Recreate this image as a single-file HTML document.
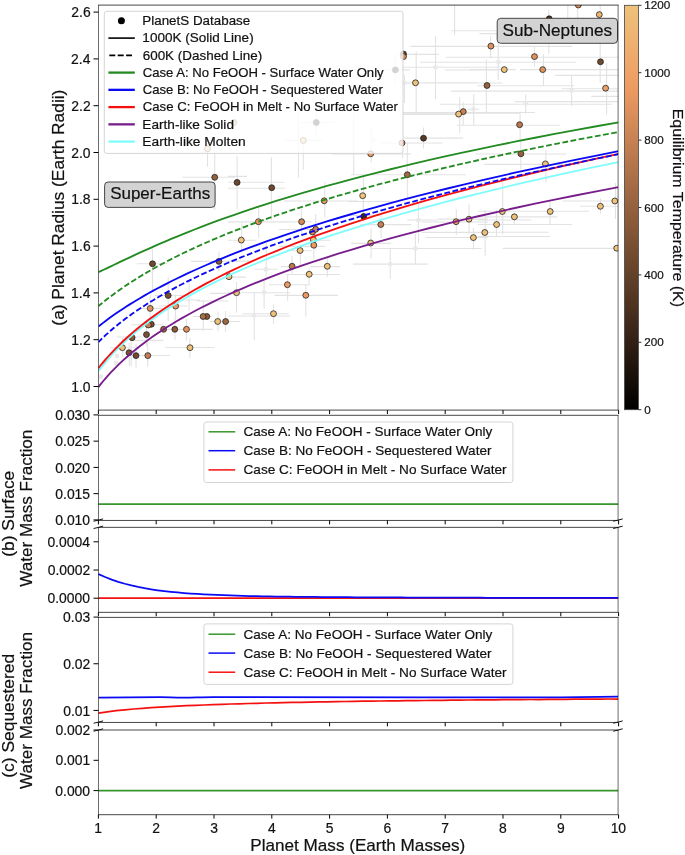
<!DOCTYPE html>
<html><head><meta charset="utf-8"><style>html,body{margin:0;padding:0;background:#fff;}svg{display:block;will-change:transform;}</style></head><body>
<svg width="685" height="855" viewBox="0 0 685 855" font-family="Liberation Sans, sans-serif"><style>text{stroke:#111;stroke-width:0.2px;}</style>
<defs>
<clipPath id="clipA"><rect x="98.5" y="5.1" width="519.6" height="405.0"/></clipPath>
<linearGradient id="cmap" x1="0" y1="1" x2="0" y2="0"><stop offset="0.0000" stop-color="#000000"/><stop offset="0.0417" stop-color="#0c0805"/><stop offset="0.0833" stop-color="#19100a"/><stop offset="0.1250" stop-color="#25180f"/><stop offset="0.1667" stop-color="#322015"/><stop offset="0.2083" stop-color="#3e281a"/><stop offset="0.2500" stop-color="#4b311f"/><stop offset="0.2917" stop-color="#573924"/><stop offset="0.3333" stop-color="#634129"/><stop offset="0.3750" stop-color="#70492e"/><stop offset="0.4167" stop-color="#7c5133"/><stop offset="0.4583" stop-color="#895938"/><stop offset="0.5000" stop-color="#95613e"/><stop offset="0.5417" stop-color="#a16943"/><stop offset="0.5833" stop-color="#ae7148"/><stop offset="0.6250" stop-color="#ba794d"/><stop offset="0.6667" stop-color="#c78152"/><stop offset="0.7083" stop-color="#d38a57"/><stop offset="0.7500" stop-color="#e0925c"/><stop offset="0.7917" stop-color="#ec9a61"/><stop offset="0.8333" stop-color="#eea267"/><stop offset="0.8750" stop-color="#eeaa6c"/><stop offset="0.9167" stop-color="#eeb271"/><stop offset="0.9583" stop-color="#eeba76"/><stop offset="1.0000" stop-color="#eec27b"/></linearGradient>
</defs>
<rect width="685" height="855" fill="#fff"/>
<g clip-path="url(#clipA)">
<path d="M454.6,5.0V35.2M451.4,30.7H496.0M479.5,33.6H520.0M410.4,46.4H572.0M490.6,36.3V58.0M435.5,36.3V99.0M398.0,54.4H438.6M445.8,57.3H619.0M416.2,51.6V114.5M420.0,62.2H576.0M486.4,59.6V112.0M498.2,43.5V80.2M402.2,31.5V75.0M470.0,69.6H515.7M520.0,69.6H619.0M555.0,75.4H619.0M470.0,83.0H502.3M477.0,85.8H574.0M561.6,88.8H619.0M451.0,91.1H619.0M591.3,96.4H619.0M514.8,101.6H619.0M439.6,104.2H612.3M402.8,112.5H534.9M402.8,114.5H459.7M402.8,67.2H500.0M444.8,70.0H500.0M402.8,82.9H476.4M534.5,46.0V66.8M543.5,54.3V85.9M548.8,10.0V53.4M571.6,75.4V106.0M600.2,5.0V83.0M606.6,63.0V114.6M525.7,94.5V113.6M520.1,111.7V140.0M577.6,5.0V18.0M567.8,5.0V18.0M459.7,97.0V132.8M463.2,102.2V125.0M473.7,94.3V124.9M404.5,75.0V103.0M467.6,109.2H479.0M403.7,138.1H463.2M423.5,127.5V148.5M380.0,143.0H442.2M402.6,153.4V158.2M407.3,142.4V200.0M351.0,174.8H465.8M331.8,153.9H410.7M457.0,125.2H560.0M402.8,113.3H520.0M475.5,154.0H566.5M484.2,164.4H580.0M303.3,134.5V169.6M298.5,113.0V177.4M271.4,157.3V220.0M228.0,182.2H284.5M353.7,113.0V174.8M363.4,176.6V221.6M324.8,181.8V217.5M371.2,127.5V162.6M285.0,140.4H322.0M300.0,122.5H335.0M316.3,108.0V135.0M380.0,69.9H410.0M395.4,55.0V85.0M228.0,188.2H285.0M237.1,156.0V208.7M228.0,176.4H247.0M520.8,140.0V169.6M545.9,150.0V181.9M502.7,183.0V234.4M478.0,211.3H589.2M514.4,212.8V225.1M478.0,216.9H557.3M496.5,210.0V236.5M478.0,224.5H571.7M478.0,220.0H531.5M478.0,232.3H549.0M478.0,236.5H550.0M550.0,201.5V224.1M600.5,198.4V213.8M615.5,183.0V219.0M562.4,201.0H619.0M580.0,206.3H619.0M502.7,248.4H619.0M485.2,209.7V256.3M348.0,201.5H393.0M363.3,195.0V221.6M348.0,215.4H380.0M418.5,204.2V243.0M407.3,220.0H437.9M381.1,213.4V237.9M360.3,224.6H411.4M371.1,228.7V258.4M351.0,243.4H390.9M415.4,233.8V264.5M370.5,248.5H481.9M390.3,249.2V278.8M353.1,264.1H427.7M456.3,209.3V234.9M421.6,222.0H488.0M469.0,204.2V233.8M437.9,219.1H488.0M421.6,232.4H488.0M425.7,237.5H488.0M473.5,228.0V250.0M228.0,221.9H294.6M290.0,221.7H312.0M258.7,207.0V237.7M301.6,208.8V235.0M284.0,201.0H358.0M241.7,222.8V252.6M228.0,240.3H256.0M313.8,223.7V259.6M278.8,246.4H325.2M302.5,240.3H330.5M300.4,244.7V266.6M291.0,250.8H312.0M266.2,243.0V277.0M254.3,269.2H277.6M292.0,256.0V273.6M280.6,266.6H301.6M327.3,257.8V277.0M310.3,266.6H340.1M309.1,268.3V284.0M285.8,274.5H340.1M228.0,277.1H246.0M287.6,274.6V300.8M269.0,284.7H310.0M274.5,295.4H338.0M305.8,285.0V316.6M242.2,313.7H288.7M273.5,304.2V324.2M254.3,293.0V340.3M228.0,316.0H290.0M264.1,279.5V308.6M228.0,292.8H290.0M236.5,282.0V312.8M279.0,229.5H317.0M228.0,261.1H250.0M315.7,214.0V250.0M136.9,263.8H168.2M152.5,248.8V290.0M191.0,261.4H240.0M218.9,251.6V271.6M168.2,277.3V320.9M155.0,295.5H189.1M189.1,281.0V311.4M175.0,300.0H200.0M158.7,306.0H187.2M175.4,294.3V319.0M150.2,295.3V320.0M196.7,301.0H228.0M203.3,300.0V331.3M218.0,311.4V331.3M210.0,293.4H235.0M165.4,347.5H214.7M189.9,338.0V357.9M132.0,355.5H170.0M136.0,343.7V368.3M147.7,333.0V366.4M131.2,340.4H163.5M131.2,324.7H163.5M131.2,336.0V366.4M117.0,337.0H141.7M174.9,318.0V339.9M186.4,319.0V340.8M158.7,329.4H212.8M192.9,316.5H211.9M210.0,321.5H240.0M225.5,311.0V332.0M122.7,338.0V357.0M110.0,347.7H135.0M129.3,343.0V366.0M146.4,322.0V346.0M140.0,308.4H162.0M182.5,177.3H235.0M214.7,145.8V210.0M207.5,148.7V166.7" stroke="#d8d8d8" stroke-width="1.1" fill="none" stroke-opacity="0.75"/>
<circle cx="117" cy="356" r="2.4" fill="#e9e9e9"/>
<circle cx="116" cy="363" r="2.4" fill="#e9e9e9"/>
<circle cx="100.8" cy="376.7" r="2.4" fill="#e9e9e9"/>
<circle cx="266" cy="269.5" r="2.4" fill="#e9e9e9"/>
<circle cx="264" cy="292.3" r="2.4" fill="#e9e9e9"/>
<circle cx="254.2" cy="315.6" r="2.4" fill="#e9e9e9"/>
<circle cx="418.4" cy="220.2" r="2.4" fill="#e9e9e9"/>
<circle cx="415.5" cy="248.7" r="2.4" fill="#e9e9e9"/>
<circle cx="390.3" cy="264.2" r="2.4" fill="#e9e9e9"/>
<circle cx="373.2" cy="140.1" r="2.4" fill="#e9e9e9"/>
<circle cx="473.4" cy="109.2" r="2.4" fill="#e9e9e9"/>
<circle cx="435.4" cy="67.3" r="2.4" fill="#e9e9e9"/>
<circle cx="404.5" cy="82.8" r="2.4" fill="#e9e9e9"/>
<circle cx="498.5" cy="62" r="2.4" fill="#e9e9e9"/>
<circle cx="571.6" cy="90.7" r="2.4" fill="#e9e9e9"/>
<circle cx="525.7" cy="103.5" r="2.4" fill="#e9e9e9"/>
<circle cx="150.2" cy="308.4" r="2.95" fill="#e0925c" stroke="#1a1a1a" stroke-width="0.75"/>
<circle cx="175.6" cy="306.1" r="2.95" fill="#ec9a61" stroke="#1a1a1a" stroke-width="0.75"/>
<circle cx="151.3" cy="324.3" r="2.95" fill="#774e31" stroke="#1a1a1a" stroke-width="0.75"/>
<circle cx="148.3" cy="325" r="2.95" fill="#c78152" stroke="#1a1a1a" stroke-width="0.75"/>
<circle cx="146.5" cy="334.6" r="2.95" fill="#7c5133" stroke="#1a1a1a" stroke-width="0.75"/>
<circle cx="132.1" cy="337.7" r="2.95" fill="#865737" stroke="#1a1a1a" stroke-width="0.75"/>
<circle cx="122.4" cy="347.7" r="2.95" fill="#eec27b" stroke="#1a1a1a" stroke-width="0.75"/>
<circle cx="129" cy="352.7" r="2.95" fill="#7c5133" stroke="#1a1a1a" stroke-width="0.75"/>
<circle cx="136" cy="355.6" r="2.95" fill="#724a2f" stroke="#1a1a1a" stroke-width="0.75"/>
<circle cx="147.8" cy="355.6" r="2.95" fill="#c27e50" stroke="#1a1a1a" stroke-width="0.75"/>
<circle cx="163.6" cy="329.3" r="2.95" fill="#a16943" stroke="#1a1a1a" stroke-width="0.75"/>
<circle cx="174.8" cy="329.3" r="2.95" fill="#8b5b39" stroke="#1a1a1a" stroke-width="0.75"/>
<circle cx="186.5" cy="329.3" r="2.95" fill="#e0925c" stroke="#1a1a1a" stroke-width="0.75"/>
<circle cx="190" cy="347.7" r="2.95" fill="#eec27b" stroke="#1a1a1a" stroke-width="0.75"/>
<circle cx="206.8" cy="316.5" r="2.95" fill="#8b5b39" stroke="#1a1a1a" stroke-width="0.75"/>
<circle cx="203.1" cy="316.5" r="2.95" fill="#a96e46" stroke="#1a1a1a" stroke-width="0.75"/>
<circle cx="217.7" cy="321.5" r="2.95" fill="#eec27b" stroke="#1a1a1a" stroke-width="0.75"/>
<circle cx="225.6" cy="321.5" r="2.95" fill="#9f6842" stroke="#1a1a1a" stroke-width="0.75"/>
<circle cx="152.5" cy="263.8" r="2.95" fill="#70492e" stroke="#1a1a1a" stroke-width="0.75"/>
<circle cx="218.9" cy="261.4" r="2.95" fill="#895938" stroke="#1a1a1a" stroke-width="0.75"/>
<circle cx="168.2" cy="295.5" r="2.95" fill="#774e31" stroke="#1a1a1a" stroke-width="0.75"/>
<circle cx="207.5" cy="148.7" r="2.95" fill="#eec27b" stroke="#1a1a1a" stroke-width="0.75"/>
<circle cx="214.7" cy="177.3" r="2.95" fill="#95613e" stroke="#1a1a1a" stroke-width="0.75"/>
<circle cx="233.7" cy="122.5" r="2.95" fill="#eec27b" stroke="#1a1a1a" stroke-width="0.75"/>
<circle cx="316.3" cy="122.5" r="2.95" fill="#322015" stroke="#1a1a1a" stroke-width="0.75"/>
<circle cx="303.3" cy="140.5" r="2.95" fill="#eec27b" stroke="#1a1a1a" stroke-width="0.75"/>
<circle cx="237.1" cy="182.4" r="2.95" fill="#6b462c" stroke="#1a1a1a" stroke-width="0.75"/>
<circle cx="271.7" cy="187.7" r="2.95" fill="#70492e" stroke="#1a1a1a" stroke-width="0.75"/>
<circle cx="324.2" cy="200.8" r="2.95" fill="#ec9a61" stroke="#1a1a1a" stroke-width="0.75"/>
<circle cx="258.4" cy="221.7" r="2.95" fill="#ec9a61" stroke="#1a1a1a" stroke-width="0.75"/>
<circle cx="301.6" cy="221.7" r="2.95" fill="#d38a57" stroke="#1a1a1a" stroke-width="0.75"/>
<circle cx="241.3" cy="240.1" r="2.95" fill="#eec27b" stroke="#1a1a1a" stroke-width="0.75"/>
<circle cx="312.5" cy="232" r="2.95" fill="#d38a57" stroke="#1a1a1a" stroke-width="0.75"/>
<circle cx="315.7" cy="229.3" r="2.95" fill="#c78152" stroke="#1a1a1a" stroke-width="0.75"/>
<circle cx="313.4" cy="239.7" r="2.95" fill="#eec27b" stroke="#1a1a1a" stroke-width="0.75"/>
<circle cx="313.8" cy="245.2" r="2.95" fill="#ec9a61" stroke="#1a1a1a" stroke-width="0.75"/>
<circle cx="300.1" cy="250.5" r="2.95" fill="#eec27b" stroke="#1a1a1a" stroke-width="0.75"/>
<circle cx="229" cy="276.7" r="2.95" fill="#eec27b" stroke="#1a1a1a" stroke-width="0.75"/>
<circle cx="292.1" cy="266.3" r="2.95" fill="#ba794d" stroke="#1a1a1a" stroke-width="0.75"/>
<circle cx="327.3" cy="266.3" r="2.95" fill="#eec27b" stroke="#1a1a1a" stroke-width="0.75"/>
<circle cx="309.2" cy="274.3" r="2.95" fill="#eec27b" stroke="#1a1a1a" stroke-width="0.75"/>
<circle cx="287.4" cy="284.7" r="2.95" fill="#ec9a61" stroke="#1a1a1a" stroke-width="0.75"/>
<circle cx="236.5" cy="292.7" r="2.95" fill="#eec27b" stroke="#1a1a1a" stroke-width="0.75"/>
<circle cx="305.8" cy="295.3" r="2.95" fill="#ec9a61" stroke="#1a1a1a" stroke-width="0.75"/>
<circle cx="273.5" cy="313.7" r="2.95" fill="#eec27b" stroke="#1a1a1a" stroke-width="0.75"/>
<circle cx="363.7" cy="216.4" r="2.95" fill="#3e281a" stroke="#1a1a1a" stroke-width="0.75"/>
<circle cx="380.8" cy="224.5" r="2.95" fill="#c78152" stroke="#1a1a1a" stroke-width="0.75"/>
<circle cx="370.7" cy="243" r="2.95" fill="#eec27b" stroke="#1a1a1a" stroke-width="0.75"/>
<circle cx="456.1" cy="221.7" r="2.95" fill="#ec9a61" stroke="#1a1a1a" stroke-width="0.75"/>
<circle cx="469" cy="219.2" r="2.95" fill="#eec27b" stroke="#1a1a1a" stroke-width="0.75"/>
<circle cx="473.4" cy="237.6" r="2.95" fill="#eec27b" stroke="#1a1a1a" stroke-width="0.75"/>
<circle cx="484.8" cy="232.5" r="2.95" fill="#eec27b" stroke="#1a1a1a" stroke-width="0.75"/>
<circle cx="463.3" cy="111.6" r="2.95" fill="#c78152" stroke="#1a1a1a" stroke-width="0.75"/>
<circle cx="458.6" cy="114.1" r="2.95" fill="#eec27b" stroke="#1a1a1a" stroke-width="0.75"/>
<circle cx="423.5" cy="138.2" r="2.95" fill="#573924" stroke="#1a1a1a" stroke-width="0.75"/>
<circle cx="402" cy="143" r="2.95" fill="#c78152" stroke="#1a1a1a" stroke-width="0.75"/>
<circle cx="370.7" cy="153.8" r="2.95" fill="#ec9a61" stroke="#1a1a1a" stroke-width="0.75"/>
<circle cx="407.3" cy="174.7" r="2.95" fill="#a16943" stroke="#1a1a1a" stroke-width="0.75"/>
<circle cx="362.7" cy="195.7" r="2.95" fill="#eec27b" stroke="#1a1a1a" stroke-width="0.75"/>
<circle cx="403.5" cy="54" r="2.95" fill="#634129" stroke="#1a1a1a" stroke-width="0.75"/>
<circle cx="403.5" cy="56.6" r="2.95" fill="#d38a57" stroke="#1a1a1a" stroke-width="0.75"/>
<circle cx="395.4" cy="69.9" r="2.95" fill="#322015" stroke="#1a1a1a" stroke-width="0.75"/>
<circle cx="415.5" cy="82.8" r="2.95" fill="#eec27b" stroke="#1a1a1a" stroke-width="0.75"/>
<circle cx="487" cy="85.5" r="2.95" fill="#95613e" stroke="#1a1a1a" stroke-width="0.75"/>
<circle cx="578.3" cy="5" r="2.95" fill="#e0925c" stroke="#1a1a1a" stroke-width="0.75"/>
<circle cx="599.3" cy="14.6" r="2.95" fill="#eeb271" stroke="#1a1a1a" stroke-width="0.75"/>
<circle cx="549.2" cy="18.8" r="2.95" fill="#4b311f" stroke="#1a1a1a" stroke-width="0.75"/>
<circle cx="490.9" cy="46.1" r="2.95" fill="#e0925c" stroke="#1a1a1a" stroke-width="0.75"/>
<circle cx="534.5" cy="56.6" r="2.95" fill="#e0925c" stroke="#1a1a1a" stroke-width="0.75"/>
<circle cx="504.3" cy="69.6" r="2.95" fill="#eec27b" stroke="#1a1a1a" stroke-width="0.75"/>
<circle cx="542.7" cy="69.6" r="2.95" fill="#e0925c" stroke="#1a1a1a" stroke-width="0.75"/>
<circle cx="600.5" cy="61.8" r="2.95" fill="#70492e" stroke="#1a1a1a" stroke-width="0.75"/>
<circle cx="605.6" cy="88.2" r="2.95" fill="#eea267" stroke="#1a1a1a" stroke-width="0.75"/>
<circle cx="519.6" cy="124.7" r="2.95" fill="#ba794d" stroke="#1a1a1a" stroke-width="0.75"/>
<circle cx="520.9" cy="153.8" r="2.95" fill="#95613e" stroke="#1a1a1a" stroke-width="0.75"/>
<circle cx="545.4" cy="163.9" r="2.95" fill="#eec27b" stroke="#1a1a1a" stroke-width="0.75"/>
<circle cx="600.4" cy="206.3" r="2.95" fill="#eec27b" stroke="#1a1a1a" stroke-width="0.75"/>
<circle cx="614.8" cy="201" r="2.95" fill="#eec27b" stroke="#1a1a1a" stroke-width="0.75"/>
<circle cx="502.3" cy="211.5" r="2.95" fill="#eec27b" stroke="#1a1a1a" stroke-width="0.75"/>
<circle cx="550.2" cy="211.5" r="2.95" fill="#eec27b" stroke="#1a1a1a" stroke-width="0.75"/>
<circle cx="514.4" cy="216.8" r="2.95" fill="#eec27b" stroke="#1a1a1a" stroke-width="0.75"/>
<circle cx="496.6" cy="224.5" r="2.95" fill="#eec27b" stroke="#1a1a1a" stroke-width="0.75"/>
<circle cx="616.7" cy="248.2" r="2.95" fill="#eec27b" stroke="#1a1a1a" stroke-width="0.75"/>
<path d="M98.40,387.09 L100.70,384.18 L103.09,381.26 L105.58,378.34 L108.17,375.42 L110.85,372.49 L113.65,369.55 L116.56,366.60 L119.58,363.64 L122.72,360.68 L125.99,357.71 L129.39,354.72 L132.92,351.73 L136.60,348.72 L140.42,345.70 L144.39,342.67 L148.52,339.62 L152.82,336.56 L157.28,333.49 L161.93,330.40 L166.76,327.30 L171.78,324.17 L177.00,321.04 L182.43,317.88 L188.07,314.70 L193.94,311.51 L200.04,308.30 L206.39,305.06 L212.99,301.81 L219.85,298.53 L226.98,295.23 L234.40,291.91 L242.11,288.56 L250.13,285.20 L258.47,281.80 L267.14,278.38 L276.16,274.94 L285.53,271.46 L295.28,267.97 L305.42,264.44 L315.96,260.88 L326.91,257.30 L338.31,253.68 L350.16,250.04 L362.48,246.36 L375.29,242.66 L388.61,238.92 L402.46,235.14 L416.86,231.34 L431.83,227.50 L447.40,223.62 L463.59,219.71 L480.43,215.76 L497.93,211.78 L516.13,207.76 L535.06,203.70 L554.74,199.60 L575.20,195.47 L596.48,191.29 L618.60,187.07" stroke="#781e8c" stroke-width="1.85" fill="none"/>
<path d="M98.40,371.24 L100.70,368.19 L103.09,365.13 L105.58,362.08 L108.17,359.03 L110.85,355.97 L113.65,352.92 L116.56,349.86 L119.58,346.79 L122.72,343.73 L125.99,340.65 L129.39,337.57 L132.92,334.48 L136.60,331.38 L140.42,328.27 L144.39,325.16 L148.52,322.02 L152.82,318.88 L157.28,315.72 L161.93,312.55 L166.76,309.36 L171.78,306.16 L177.00,302.93 L182.43,299.69 L188.07,296.43 L193.94,293.15 L200.04,289.84 L206.39,286.51 L212.99,283.16 L219.85,279.79 L226.98,276.38 L234.40,272.96 L242.11,269.50 L250.13,266.02 L258.47,262.50 L267.14,258.96 L276.16,255.38 L285.53,251.77 L295.28,248.13 L305.42,244.45 L315.96,240.74 L326.91,236.99 L338.31,233.20 L350.16,229.37 L362.48,225.51 L375.29,221.60 L388.61,217.65 L402.46,213.66 L416.86,209.63 L431.83,205.55 L447.40,201.43 L463.59,197.26 L480.43,193.04 L497.93,188.78 L516.13,184.46 L535.06,180.10 L554.74,175.68 L575.20,171.21 L596.48,166.69 L618.60,162.12" stroke="#80fcfc" stroke-width="1.85" fill="none"/>
<path d="M98.40,368.20 L100.70,365.29 L103.09,362.37 L105.58,359.44 L108.17,356.49 L110.85,353.53 L113.65,350.55 L116.56,347.56 L119.58,344.56 L122.72,341.53 L125.99,338.49 L129.39,335.43 L132.92,332.35 L136.60,329.25 L140.42,326.13 L144.39,322.99 L148.52,319.83 L152.82,316.65 L157.28,313.44 L161.93,310.21 L166.76,306.96 L171.78,303.68 L177.00,300.37 L182.43,297.04 L188.07,293.68 L193.94,290.29 L200.04,286.88 L206.39,283.43 L212.99,279.96 L219.85,276.46 L226.98,272.92 L234.40,269.36 L242.11,265.76 L250.13,262.13 L258.47,258.46 L267.14,254.76 L276.16,251.03 L285.53,247.26 L295.28,243.45 L305.42,239.61 L315.96,235.72 L326.91,231.80 L338.31,227.84 L350.16,223.85 L362.48,219.81 L375.29,215.73 L388.61,211.61 L402.46,207.44 L416.86,203.23 L431.83,198.98 L447.40,194.69 L463.59,190.35 L480.43,185.96 L497.93,181.53 L516.13,177.05 L535.06,172.52 L554.74,167.94 L575.20,163.32 L596.48,158.65 L618.60,153.92" stroke="#f51010" stroke-width="1.85" fill="none"/>
<path d="M98.40,326.58 L100.70,324.75 L103.09,322.88 L105.58,320.98 L108.17,319.05 L110.85,317.09 L113.65,315.10 L116.56,313.08 L119.58,311.02 L122.72,308.93 L125.99,306.80 L129.39,304.64 L132.92,302.45 L136.60,300.22 L140.42,297.95 L144.39,295.65 L148.52,293.31 L152.82,290.93 L157.28,288.52 L161.93,286.06 L166.76,283.57 L171.78,281.04 L177.00,278.47 L182.43,275.86 L188.07,273.21 L193.94,270.51 L200.04,267.78 L206.39,265.00 L212.99,262.18 L219.85,259.32 L226.98,256.42 L234.40,253.47 L242.11,250.48 L250.13,247.44 L258.47,244.36 L267.14,241.23 L276.16,238.05 L285.53,234.83 L295.28,231.56 L305.42,228.24 L315.96,224.88 L326.91,221.47 L338.31,218.01 L350.16,214.49 L362.48,210.93 L375.29,207.32 L388.61,203.66 L402.46,199.95 L416.86,196.18 L431.83,192.36 L447.40,188.49 L463.59,184.57 L480.43,180.59 L497.93,176.56 L516.13,172.47 L535.06,168.33 L554.74,164.14 L575.20,159.88 L596.48,155.58 L618.60,151.21" stroke="#0a0af5" stroke-width="1.85" fill="none"/>
<path d="M98.40,342.08 L100.70,339.79 L103.09,337.48 L105.58,335.15 L108.17,332.81 L110.85,330.45 L113.65,328.07 L116.56,325.67 L119.58,323.25 L122.72,320.81 L125.99,318.34 L129.39,315.86 L132.92,313.35 L136.60,310.81 L140.42,308.25 L144.39,305.67 L148.52,303.06 L152.82,300.42 L157.28,297.75 L161.93,295.05 L166.76,292.32 L171.78,289.57 L177.00,286.78 L182.43,283.95 L188.07,281.10 L193.94,278.21 L200.04,275.29 L206.39,272.33 L212.99,269.33 L219.85,266.30 L226.98,263.23 L234.40,260.12 L242.11,256.97 L250.13,253.79 L258.47,250.56 L267.14,247.29 L276.16,243.97 L285.53,240.62 L295.28,237.21 L305.42,233.77 L315.96,230.28 L326.91,226.74 L338.31,223.15 L350.16,219.52 L362.48,215.84 L375.29,212.11 L388.61,208.32 L402.46,204.49 L416.86,200.61 L431.83,196.67 L447.40,192.67 L463.59,188.63 L480.43,184.53 L497.93,180.37 L516.13,176.16 L535.06,171.88 L554.74,167.55 L575.20,163.17 L596.48,158.72 L618.60,154.21" stroke="#0a0af5" stroke-width="1.85" fill="none" stroke-dasharray="5.78,2.5" stroke-dashoffset="0.6"/>
<path d="M98.40,272.15 L100.70,271.10 L103.09,269.99 L105.58,268.82 L108.17,267.61 L110.85,266.33 L113.65,265.01 L116.56,263.63 L119.58,262.19 L122.72,260.70 L125.99,259.16 L129.39,257.56 L132.92,255.91 L136.60,254.21 L140.42,252.46 L144.39,250.65 L148.52,248.79 L152.82,246.88 L157.28,244.92 L161.93,242.90 L166.76,240.84 L171.78,238.72 L177.00,236.55 L182.43,234.33 L188.07,232.06 L193.94,229.74 L200.04,227.37 L206.39,224.95 L212.99,222.48 L219.85,219.96 L226.98,217.39 L234.40,214.77 L242.11,212.10 L250.13,209.38 L258.47,206.62 L267.14,203.81 L276.16,200.94 L285.53,198.04 L295.28,195.08 L305.42,192.07 L315.96,189.02 L326.91,185.92 L338.31,182.78 L350.16,179.59 L362.48,176.35 L375.29,173.06 L388.61,169.73 L402.46,166.35 L416.86,162.93 L431.83,159.46 L447.40,155.95 L463.59,152.39 L480.43,148.79 L497.93,145.14 L516.13,141.45 L535.06,137.72 L554.74,133.94 L575.20,130.11 L596.48,126.25 L618.60,122.34" stroke="#238b22" stroke-width="1.85" fill="none"/>
<path d="M98.40,306.16 L100.70,304.24 L103.09,302.29 L105.58,300.30 L108.17,298.29 L110.85,296.24 L113.65,294.16 L116.56,292.04 L119.58,289.89 L122.72,287.71 L125.99,285.50 L129.39,283.25 L132.92,280.96 L136.60,278.64 L140.42,276.29 L144.39,273.90 L148.52,271.48 L152.82,269.03 L157.28,266.53 L161.93,264.01 L166.76,261.44 L171.78,258.84 L177.00,256.21 L182.43,253.54 L188.07,250.83 L193.94,248.09 L200.04,245.31 L206.39,242.49 L212.99,239.64 L219.85,236.75 L226.98,233.82 L234.40,230.86 L242.11,227.86 L250.13,224.82 L258.47,221.74 L267.14,218.62 L276.16,215.47 L285.53,212.28 L295.28,209.05 L305.42,205.78 L315.96,202.47 L326.91,199.12 L338.31,195.73 L350.16,192.31 L362.48,188.84 L375.29,185.33 L388.61,181.79 L402.46,178.20 L416.86,174.57 L431.83,170.91 L447.40,167.20 L463.59,163.45 L480.43,159.66 L497.93,155.83 L516.13,151.96 L535.06,148.05 L554.74,144.09 L575.20,140.10 L596.48,136.06 L618.60,131.98" stroke="#238b22" stroke-width="1.85" fill="none" stroke-dasharray="5.78,2.5" stroke-dashoffset="0.6"/>
</g>
<rect x="104.3" y="11.3" width="298.7" height="142.1" rx="2.5" fill="#fff" fill-opacity="0.8" stroke="#d0d0d0" stroke-width="0.9"/>
<text x="142.33" y="25.00" font-size="12.9" textLength="107.89" lengthAdjust="spacingAndGlyphs" fill="#111111">PlanetS Database</text>
<circle cx="121.4" cy="20.85" r="3.5" fill="#000"/>
<text x="142.39" y="42.25" font-size="12.9" textLength="111.26" lengthAdjust="spacingAndGlyphs" fill="#111111">1000K (Solid Line)</text>
<path d="M108.4,38.10H134.8" stroke="#000" stroke-width="1.6"/>
<text x="142.73" y="59.50" font-size="12.9" textLength="119.44" lengthAdjust="spacingAndGlyphs" fill="#111111">600K (Dashed Line)</text>
<path d="M109.3,55.35H132" stroke="#000" stroke-width="1.6" stroke-dasharray="6,2.4"/>
<text x="142.74" y="76.75" font-size="12.9" textLength="240.89" lengthAdjust="spacingAndGlyphs" fill="#111111">Case A: No FeOOH - Surface Water Only</text>
<path d="M108.4,72.60H134.8" stroke="#238b22" stroke-width="2.3"/>
<text x="142.74" y="94.00" font-size="12.9" textLength="240.20" lengthAdjust="spacingAndGlyphs" fill="#111111">Case B: No FeOOH - Sequestered Water</text>
<path d="M108.4,89.85H134.8" stroke="#0a0af5" stroke-width="2.3"/>
<text x="142.74" y="111.25" font-size="12.9" textLength="255.19" lengthAdjust="spacingAndGlyphs" fill="#111111">Case C: FeOOH in Melt - No Surface Water</text>
<path d="M108.4,107.10H134.8" stroke="#f51010" stroke-width="2.3"/>
<text x="142.31" y="128.50" font-size="12.9" textLength="91.68" lengthAdjust="spacingAndGlyphs" fill="#111111">Earth-like Solid</text>
<path d="M108.4,124.35H134.8" stroke="#781e8c" stroke-width="2.3"/>
<text x="142.30" y="145.75" font-size="12.9" textLength="103.44" lengthAdjust="spacingAndGlyphs" fill="#111111">Earth-like Molten</text>
<path d="M108.4,141.60H134.8" stroke="#80fcfc" stroke-width="2.3"/>
<rect x="104.6" y="182" width="110.5" height="25.4" rx="3.5" fill="#d3d3d3" stroke="#333" stroke-width="0.9"/>
<text x="110.14" y="199.40" font-size="17" textLength="100.09" lengthAdjust="spacingAndGlyphs" fill="#111111">Super-Earths</text>
<rect x="497.2" y="18.3" width="120.3" height="25" rx="3.5" fill="#d3d3d3" stroke="#333" stroke-width="0.9"/>
<text x="502.53" y="35.70" font-size="17" textLength="109.54" lengthAdjust="spacingAndGlyphs" fill="#111111">Sub-Neptunes</text>
<path d="M98.5,504.1H618.1" stroke="#36962c" stroke-width="1.75"/>
<path d="M98.5,598.2H618.1" stroke="#f51010" stroke-width="1.75"/>
<path d="M98.5,574.10 L105.1,577.06 L111.7,579.62 L118.2,581.85 L124.8,583.78 L131.4,585.46 L138.0,586.92 L144.5,588.19 L151.1,589.29 L157.7,590.26 L164.3,591.10 L170.8,591.83 L177.4,592.48 L184.0,593.04 L190.6,593.53 L197.2,593.96 L203.7,594.34 L210.3,594.68 L216.9,594.97 L223.5,595.23 L230.0,595.47 L236.6,595.67 L243.2,595.85 L249.8,596.02 L256.4,596.16 L262.9,596.29 L269.5,596.41 L276.1,596.52 L282.7,596.61 L289.2,596.70 L295.8,596.78 L302.4,596.86 L309.0,596.92 L315.5,596.98 L322.1,597.04 L328.7,597.09 L335.3,597.14 L341.9,597.19 L348.4,597.23 L355.0,597.27 L361.6,597.31 L368.2,597.34 L374.7,597.38 L381.3,597.41 L387.9,597.44 L394.5,597.47 L401.1,597.49 L407.6,597.52 L414.2,597.54 L420.8,597.56 L427.4,597.59 L433.9,597.61 L440.5,597.63 L447.1,597.65 L453.7,597.67 L460.2,597.69 L466.8,597.70 L473.4,597.72 L480.0,597.74 L486.6,597.75 L493.1,597.77 L499.7,597.78 L506.3,597.79 L512.9,597.81 L519.4,597.82 L526.0,597.83 L532.6,597.84 L539.2,597.86 L545.8,597.87 L552.3,597.88 L558.9,597.89 L565.5,597.90 L572.1,597.91 L578.6,597.92 L585.2,597.93 L591.8,597.94 L598.4,597.95 L604.9,597.95 L611.5,597.96 L618.1,597.97" stroke="#0a0af5" stroke-width="1.75" fill="none"/>
<path d="M98.5,697.6 C130,697.4 150,697.1 160,697.2 S175,697.8 185,697.7 S205,697.1 215,697.2 L420,697.3 L560,697.3 L618.1,696.6" stroke="#0a0af5" stroke-width="1.75" fill="none"/>
<path d="M98.5,713.1 L107.3,711.8 L116.1,710.7 L124.9,709.8 L133.7,709.0 L142.5,708.3 L151.3,707.7 L160.1,707.1 L169.0,706.6 L177.8,706.1 L186.6,705.7 L195.4,705.3 L204.2,705.0 L213.0,704.6 L221.8,704.3 L230.6,704.0 L239.4,703.8 L248.2,703.5 L257.0,703.3 L265.8,703.0 L274.6,702.8 L283.4,702.6 L292.2,702.4 L301.1,702.3 L309.9,702.1 L318.7,701.9 L327.5,701.8 L336.3,701.6 L345.1,701.5 L353.9,701.4 L362.7,701.2 L371.5,701.1 L380.3,701.0 L389.1,700.9 L397.9,700.8 L406.7,700.7 L415.5,700.6 L424.4,700.5 L433.2,700.4 L442.0,700.3 L450.8,700.2 L459.6,700.1 L468.4,700.0 L477.2,699.9 L486.0,699.9 L494.8,699.8 L503.6,699.7 L512.4,699.7 L521.2,699.6 L530.0,699.5 L538.8,699.5 L547.6,699.4 L556.5,699.3 L565.3,699.3 L574.1,699.2 L582.9,699.2 L591.7,699.1 L600.5,699.1 L609.3,699.0 L618.1,699.0" stroke="#f51010" stroke-width="1.75" fill="none" stroke-linejoin="round"/>
<path d="M98.5,790.6H618.1" stroke="#36962c" stroke-width="1.75"/>
<rect x="203.9" y="422.0" width="309" height="60.5" rx="2.5" fill="#fff" fill-opacity="0.8" stroke="#d0d0d0" stroke-width="0.9"/>
<path d="M208.5,431.8H235.2" stroke="#36962c" stroke-width="1.5"/>
<text x="243.52" y="436.20" font-size="13.5" textLength="248.81" lengthAdjust="spacingAndGlyphs" fill="#111111">Case A: No FeOOH - Surface Water Only</text>
<path d="M208.5,450.7H235.2" stroke="#0a0af5" stroke-width="1.5"/>
<text x="243.52" y="455.10" font-size="13.5" textLength="247.93" lengthAdjust="spacingAndGlyphs" fill="#111111">Case B: No FeOOH - Sequestered Water</text>
<path d="M208.5,469.9H235.2" stroke="#f51010" stroke-width="1.5"/>
<text x="243.52" y="474.30" font-size="13.5" textLength="263.11" lengthAdjust="spacingAndGlyphs" fill="#111111">Case C: FeOOH in Melt - No Surface Water</text>
<rect x="203.9" y="623.9" width="309" height="60.5" rx="2.5" fill="#fff" fill-opacity="0.8" stroke="#d0d0d0" stroke-width="0.9"/>
<path d="M208.5,634.2H235.2" stroke="#36962c" stroke-width="1.5"/>
<text x="243.52" y="638.60" font-size="13.5" textLength="248.81" lengthAdjust="spacingAndGlyphs" fill="#111111">Case A: No FeOOH - Surface Water Only</text>
<path d="M208.5,653.1H235.2" stroke="#0a0af5" stroke-width="1.5"/>
<text x="243.52" y="657.50" font-size="13.5" textLength="247.93" lengthAdjust="spacingAndGlyphs" fill="#111111">Case B: No FeOOH - Sequestered Water</text>
<path d="M208.5,672.2H235.2" stroke="#f51010" stroke-width="1.5"/>
<text x="243.52" y="676.60" font-size="13.5" textLength="263.11" lengthAdjust="spacingAndGlyphs" fill="#111111">Case C: FeOOH in Melt - No Surface Water</text>
<path d="M98.1,5.1H618.5M98.1,410.1H618.5" stroke="#000" stroke-width="0.85" fill="none" stroke-opacity="0.85"/>
<path d="M98.5,5.1V410.1M618.1,5.1V410.1" stroke="#000" stroke-width="0.85" fill="none" stroke-opacity="0.68"/>
<path d="M98.1,415.3H618.5M98.1,520.45H618.5" stroke="#000" stroke-width="0.85" fill="none" stroke-opacity="0.85"/>
<path d="M98.5,415.3V520.45M618.1,415.3V520.45" stroke="#000" stroke-width="0.85" fill="none" stroke-opacity="0.68"/>
<path d="M98.1,527.35H618.5M98.1,612.35H618.5" stroke="#000" stroke-width="0.85" fill="none" stroke-opacity="0.85"/>
<path d="M98.5,527.35V612.35M618.1,527.35V612.35" stroke="#000" stroke-width="0.85" fill="none" stroke-opacity="0.68"/>
<path d="M98.1,617.4H618.5M98.1,722.45H618.5" stroke="#000" stroke-width="0.85" fill="none" stroke-opacity="0.85"/>
<path d="M98.5,617.4V722.45M618.1,617.4V722.45" stroke="#000" stroke-width="0.85" fill="none" stroke-opacity="0.68"/>
<path d="M98.1,730.0H618.5M98.1,814.7H618.5" stroke="#000" stroke-width="0.85" fill="none" stroke-opacity="0.85"/>
<path d="M98.5,730.0V814.7M618.1,730.0V814.7" stroke="#000" stroke-width="0.85" fill="none" stroke-opacity="0.68"/>
<path d="M93.5,386.50H98.5" stroke="#000" stroke-width="1"/>
<text x="71.23" y="391.60" font-size="13.9" fill="#111111">1.0</text>
<path d="M93.5,339.70H98.5" stroke="#000" stroke-width="1"/>
<text x="71.37" y="344.80" font-size="13.9" fill="#111111">1.2</text>
<path d="M93.5,292.90H98.5" stroke="#000" stroke-width="1"/>
<text x="71.10" y="298.00" font-size="13.9" fill="#111111">1.4</text>
<path d="M93.5,246.10H98.5" stroke="#000" stroke-width="1"/>
<text x="71.30" y="251.20" font-size="13.9" fill="#111111">1.6</text>
<path d="M93.5,199.30H98.5" stroke="#000" stroke-width="1"/>
<text x="71.23" y="204.40" font-size="13.9" fill="#111111">1.8</text>
<path d="M93.5,152.50H98.5" stroke="#000" stroke-width="1"/>
<text x="71.23" y="157.60" font-size="13.9" fill="#111111">2.0</text>
<path d="M93.5,105.70H98.5" stroke="#000" stroke-width="1"/>
<text x="71.37" y="110.80" font-size="13.9" fill="#111111">2.2</text>
<path d="M93.5,58.90H98.5" stroke="#000" stroke-width="1"/>
<text x="71.10" y="64.00" font-size="13.9" fill="#111111">2.4</text>
<path d="M93.5,12.10H98.5" stroke="#000" stroke-width="1"/>
<text x="71.30" y="17.20" font-size="13.9" fill="#111111">2.6</text>
<path d="M93.5,414.90H98.5" stroke="#000" stroke-width="1"/>
<text x="55.31" y="420.00" font-size="13.9" fill="#111111">0.030</text>
<path d="M93.5,441.15H98.5" stroke="#000" stroke-width="1"/>
<text x="55.31" y="446.25" font-size="13.9" fill="#111111">0.025</text>
<path d="M93.5,467.40H98.5" stroke="#000" stroke-width="1"/>
<text x="55.31" y="472.50" font-size="13.9" fill="#111111">0.020</text>
<path d="M93.5,493.65H98.5" stroke="#000" stroke-width="1"/>
<text x="55.31" y="498.75" font-size="13.9" fill="#111111">0.015</text>
<path d="M93.5,519.90H98.5" stroke="#000" stroke-width="1"/>
<text x="55.31" y="525.00" font-size="13.9" fill="#111111">0.010</text>
<path d="M93.5,541.80H98.5" stroke="#000" stroke-width="1"/>
<text x="47.38" y="546.90" font-size="13.9" fill="#111111">0.0004</text>
<path d="M93.5,570.00H98.5" stroke="#000" stroke-width="1"/>
<text x="47.66" y="575.10" font-size="13.9" fill="#111111">0.0002</text>
<path d="M93.5,598.20H98.5" stroke="#000" stroke-width="1"/>
<text x="47.52" y="603.30" font-size="13.9" fill="#111111">0.0000</text>
<path d="M93.5,617.10H98.5" stroke="#000" stroke-width="1"/>
<text x="63.09" y="622.20" font-size="13.9" fill="#111111">0.03</text>
<path d="M93.5,663.75H98.5" stroke="#000" stroke-width="1"/>
<text x="63.16" y="668.85" font-size="13.9" fill="#111111">0.02</text>
<path d="M93.5,710.40H98.5" stroke="#000" stroke-width="1"/>
<text x="63.16" y="715.50" font-size="13.9" fill="#111111">0.01</text>
<path d="M93.5,730.00H98.5" stroke="#000" stroke-width="1"/>
<text x="55.44" y="735.10" font-size="13.9" fill="#111111">0.002</text>
<path d="M93.5,760.30H98.5" stroke="#000" stroke-width="1"/>
<text x="55.44" y="765.40" font-size="13.9" fill="#111111">0.001</text>
<path d="M93.5,790.60H98.5" stroke="#000" stroke-width="1"/>
<text x="55.31" y="795.70" font-size="13.9" fill="#111111">0.000</text>
<path d="M98.40,410.1V414.00M98.40,520.45V524.35M98.40,612.35V616.25M98.40,722.45V726.35M98.40,814.7V818.60" stroke="#000" stroke-width="1"/>
<text x="94.37" y="832.80" font-size="13.9" fill="#111111">1</text>
<path d="M156.20,410.1V414.00M156.20,520.45V524.35M156.20,612.35V616.25M156.20,722.45V726.35M156.20,814.7V818.60" stroke="#000" stroke-width="1"/>
<text x="152.34" y="832.80" font-size="13.9" fill="#111111">2</text>
<path d="M214.00,410.1V414.00M214.00,520.45V524.35M214.00,612.35V616.25M214.00,722.45V726.35M214.00,814.7V818.60" stroke="#000" stroke-width="1"/>
<text x="210.18" y="832.80" font-size="13.9" fill="#111111">3</text>
<path d="M271.80,410.1V414.00M271.80,520.45V524.35M271.80,612.35V616.25M271.80,722.45V726.35M271.80,814.7V818.60" stroke="#000" stroke-width="1"/>
<text x="267.98" y="832.80" font-size="13.9" fill="#111111">4</text>
<path d="M329.60,410.1V414.00M329.60,520.45V524.35M329.60,612.35V616.25M329.60,722.45V726.35M329.60,814.7V818.60" stroke="#000" stroke-width="1"/>
<text x="325.74" y="832.80" font-size="13.9" fill="#111111">5</text>
<path d="M387.40,410.1V414.00M387.40,520.45V524.35M387.40,612.35V616.25M387.40,722.45V726.35M387.40,814.7V818.60" stroke="#000" stroke-width="1"/>
<text x="383.51" y="832.80" font-size="13.9" fill="#111111">6</text>
<path d="M445.20,410.1V414.00M445.20,520.45V524.35M445.20,612.35V616.25M445.20,722.45V726.35M445.20,814.7V818.60" stroke="#000" stroke-width="1"/>
<text x="441.34" y="832.80" font-size="13.9" fill="#111111">7</text>
<path d="M503.00,410.1V414.00M503.00,520.45V524.35M503.00,612.35V616.25M503.00,722.45V726.35M503.00,814.7V818.60" stroke="#000" stroke-width="1"/>
<text x="499.11" y="832.80" font-size="13.9" fill="#111111">8</text>
<path d="M560.80,410.1V414.00M560.80,520.45V524.35M560.80,612.35V616.25M560.80,722.45V726.35M560.80,814.7V818.60" stroke="#000" stroke-width="1"/>
<text x="556.94" y="832.80" font-size="13.9" fill="#111111">9</text>
<path d="M618.60,410.1V414.00M618.60,520.45V524.35M618.60,612.35V616.25M618.60,722.45V726.35M618.60,814.7V818.60" stroke="#000" stroke-width="1"/>
<text x="610.64" y="832.80" font-size="13.9" fill="#111111">10</text>
<path d="M93.6,521.2Q98.5,520.2 103.1,518.9M613.2,521.2Q618.1,520.2 622.7,518.9" stroke="#111" stroke-width="1" fill="none"/>
<path d="M93.6,528.5Q98.5,527.5 103.1,526.1M613.2,528.5Q618.1,527.5 622.7,526.1" stroke="#111" stroke-width="1" fill="none"/>
<path d="M93.6,723.2Q98.5,722.2 103.1,720.9M613.2,723.2Q618.1,722.2 622.7,720.9" stroke="#111" stroke-width="1" fill="none"/>
<path d="M93.6,731.2Q98.5,730.2 103.1,728.8M613.2,731.2Q618.1,730.2 622.7,728.8" stroke="#111" stroke-width="1" fill="none"/>
<text x="250.23" y="851.20" font-size="16.4" textLength="215.08" lengthAdjust="spacingAndGlyphs" fill="#111111">Planet Mass (Earth Masses)</text>
<text transform="translate(64.20,325.64) rotate(-90)" x="0" y="0" font-size="16.8" textLength="236.02" lengthAdjust="spacingAndGlyphs" fill="#111111">(a) Planet Radius (Earth Radii)</text>
<text transform="translate(14.00,556.85) rotate(-90)" x="0" y="0" font-size="16.8" textLength="86.15" lengthAdjust="spacingAndGlyphs" fill="#111111">(b) Surface</text>
<text transform="translate(31.90,586.79) rotate(-90)" x="0" y="0" font-size="16.8" textLength="157.03" lengthAdjust="spacingAndGlyphs" fill="#111111">Water Mass Fraction</text>
<text transform="translate(14.00,777.75) rotate(-90)" x="0" y="0" font-size="16.8" textLength="123.98" lengthAdjust="spacingAndGlyphs" fill="#111111">(c) Sequestered</text>
<text transform="translate(31.90,788.99) rotate(-90)" x="0" y="0" font-size="16.8" textLength="156.93" lengthAdjust="spacingAndGlyphs" fill="#111111">Water Mass Fraction</text>
<rect x="624.5" y="5.3" width="13.899999999999977" height="404.4" fill="url(#cmap)" stroke="#444" stroke-width="0.8"/>
<path d="M638.4,409.70H641.4" stroke="#333" stroke-width="1"/>
<text x="644.20" y="413.80" font-size="11.7" fill="#111111">0</text>
<path d="M638.4,342.30H641.4" stroke="#333" stroke-width="1"/>
<text x="644.20" y="346.40" font-size="11.7" fill="#111111">200</text>
<path d="M638.4,274.90H641.4" stroke="#333" stroke-width="1"/>
<text x="644.20" y="279.00" font-size="11.7" fill="#111111">400</text>
<path d="M638.4,207.50H641.4" stroke="#333" stroke-width="1"/>
<text x="644.20" y="211.60" font-size="11.7" fill="#111111">600</text>
<path d="M638.4,140.10H641.4" stroke="#333" stroke-width="1"/>
<text x="644.20" y="144.20" font-size="11.7" fill="#111111">800</text>
<path d="M638.4,72.70H641.4" stroke="#333" stroke-width="1"/>
<text x="644.20" y="76.80" font-size="11.7" fill="#111111">1000</text>
<path d="M638.4,5.30H641.4" stroke="#333" stroke-width="1"/>
<text x="644.20" y="9.40" font-size="11.7" fill="#111111">1200</text>
<text transform="translate(673.10,108.72) rotate(90)" x="0" y="0" font-size="14.6" textLength="198.35" lengthAdjust="spacingAndGlyphs" fill="#111111">Equilibrium Temperature (K)</text>
</svg>
</body></html>
